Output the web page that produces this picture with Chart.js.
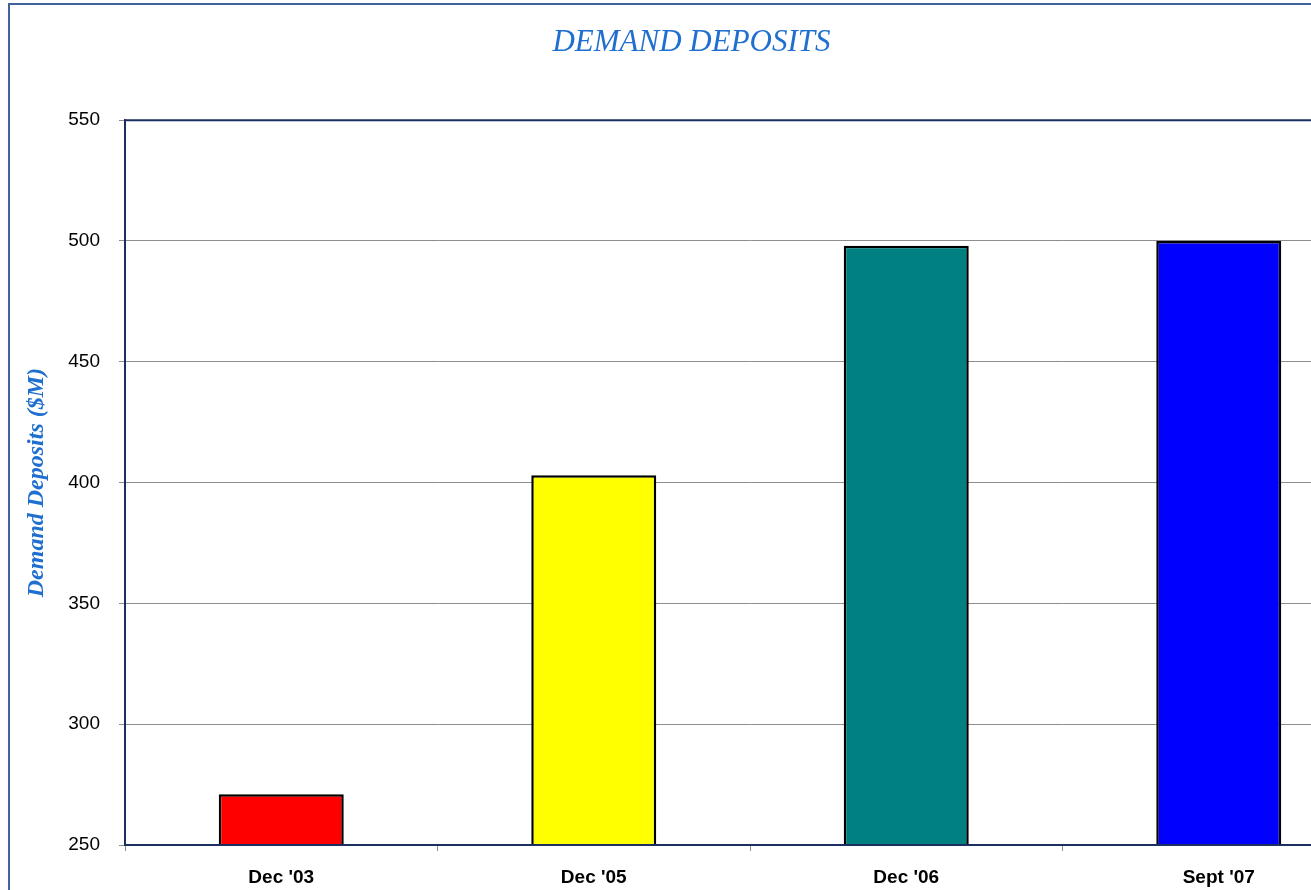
<!DOCTYPE html>
<html>
<head>
<meta charset="utf-8">
<title>Demand Deposits</title>
<script src="https://cdn.jsdelivr.net/npm/chart.js@4.4.1/dist/chart.umd.min.js"></script>
<style>
  html, body { margin: 0; padding: 0; background: #fff; overflow: hidden; width: 1311px; height: 890px; }
  #frame { position: absolute; left: 8px; top: 3px; width: 1390px; height: 900px; border: 2px solid #41639b; box-sizing: border-box; }
  #chart { position: absolute; left: 0; top: 0; }
</style>
</head>
<body>
<div id="frame"></div>
<canvas id="chart" width="1400" height="890"></canvas>
<script>
// data
const categories = ["Dec '03", "Dec '05", "Dec '06", "Sept '07"];
const deposits = [271, 403, 498, 500];
const barColors = ['#ff0000', '#ffff00', '#008080', '#0000ff'];
const yTicks = [250, 300, 350, 400, 450, 500, 550];

const navy = '#1c2f63';
const grey = '#8e8e8e';
const blue = '#1f6fd0';

// frame line around the plot area
const plotBorder = {
  id: 'plotBorder',
  afterDatasetsDraw(chart) {
    const a = chart.chartArea;
    const ctx = chart.ctx;
    ctx.save();
    ctx.strokeStyle = navy;
    ctx.lineWidth = 2;
    ctx.beginPath();
    ctx.moveTo(a.left, a.bottom);
    ctx.lineTo(a.left, a.top);
    ctx.lineTo(a.right, a.top);
    ctx.moveTo(a.left, a.bottom);
    ctx.lineTo(a.right, a.bottom);
    ctx.stroke();
    ctx.restore();
  }
};

const ctx = document.getElementById('chart').getContext('2d');
new Chart(ctx, {
  type: 'bar',
  data: {
    labels: categories,
    datasets: [{
      data: deposits,
      backgroundColor: barColors,
      borderColor: '#000',
      borderWidth: 2.5,
      barPercentage: 0.4,
      categoryPercentage: 1
    }]
  },
  options: {
    responsive: false,
    animation: false,
    devicePixelRatio: 1,
    layout: { padding: { left: 8, right: 25, top: 0, bottom: 0 } },
    plugins: {
      legend: { display: false },
      tooltip: { enabled: false },
      title: {
        display: true,
        text: 'DEMAND DEPOSITS',
        color: blue,
        font: { family: 'Liberation Serif', size: 31, style: 'italic', weight: 'normal', lineHeight: 1.2 },
        padding: { top: 24, bottom: 59 }
      }
    },
    scales: {
      x: {
        offset: true,
        grid: { display: true, drawOnChartArea: false, offset: true, tickLength: 6, color: grey },
        border: { color: navy, width: 2 },
        ticks: { color: '#000', padding: 15, font: { family: 'Liberation Sans', size: 19, weight: 'bold' } },
        afterFit(scale) { scale.height = 45; }
      },
      y: {
        min: yTicks[0],
        max: yTicks[yTicks.length - 1],
        afterBuildTicks(scale) { scale.ticks = yTicks.map(v => ({ value: v })); },
        grid: { color: grey, tickLength: 6, lineWidth: 1 },
        border: { color: navy, width: 2 },
        ticks: { color: '#000', padding: 19, font: { family: 'Liberation Sans', size: 19 } },
        title: {
          display: true,
          text: 'Demand Deposits ($M)',
          color: blue,
          padding: { top: 14, bottom: 0 },
          font: { family: 'Liberation Serif', size: 24, style: 'italic', weight: 'bold', lineHeight: 1.2 }
        },
        afterFit(scale) { scale.width = 117; }
      }
    }
  },
  plugins: [plotBorder]
});
</script>
</body>
</html>
